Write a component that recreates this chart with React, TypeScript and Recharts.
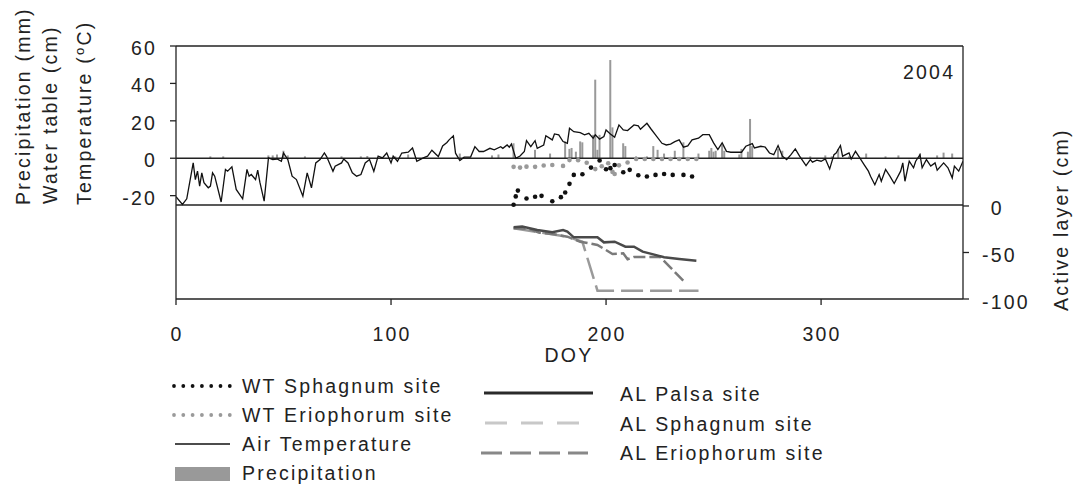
import React from 'react';
import { ComposedChart, Line, Bar, XAxis, YAxis, ReferenceLine } from 'recharts';

// ---------- data (DOY, value) ----------
const airTemperature: [number, number][] = [
  [0, -20.6], [3, -24.7], [5, -21.7], [8, -2.5], [9, -11.4], [10, -6.9], [11, -14.9], [12, -7.8], [13, -13.1],
  [15, -15.8], [16, -14.9], [17, -7.8], [18, -9.6], [21, -23.4], [23, -6], [24, -6.9], [26, -4.6], [28, -16.7],
  [31, -21.7], [33, -6], [34, -9.6], [35, -8.7], [37, -11.4], [38, -6.4], [39, -12.8], [41, -22.9], [43, 0.2],
  [45, -0.7], [47, -0.4], [49, -1.6], [50, 2.8], [52, -0.7], [54, -9.6], [56, -11.4], [59, -20.3], [61, -7.8],
  [63, -15.8], [65, -2.5], [67, -0.7], [69, 2.8], [70, 1.0], [73, -7], [74, -4.3], [77, -2.5], [78, -0.4],
  [80, -2.5], [82, -7.8], [84, -9.6], [86, -8.7], [88, -2.5], [90, -0.7], [92, -7], [94, 1.1], [96, 0.2],
  [98, 2.8], [100, -2.5], [101, 1.1], [103, -1.6], [105, 2.8], [108, 3.2], [110, 5.5], [112, -1.6], [115, 0.2],
  [117, 1.1], [119, 4.3], [121, 2.0], [122, 0.9], [124, 6.6], [126, 8.4], [127, 9.8], [129, 12.0], [130, 2.7],
  [132, -1.2], [134, 0.6], [137, 0.6], [139, 6.2], [141, 3.6], [143, 3.6], [146, 5.3], [148, 4.5], [151, 6.2],
  [152, 5.3], [154, 7.1], [155, 5.9], [156, 7.6], [158, 0], [160, 1.2], [162, 3.6], [163, 9.4], [165, 6.2],
  [167, 9.4], [168, 5.3], [171, 7.1], [172, 12.0], [175, 9.8], [176, 13.0], [178, 12.5], [180, 8.9], [182, 8.0],
  [183, 16.0], [185, 14.2], [188, 13.7], [190, 12.5], [192, 13.3], [194, 10.7], [195, 12.5], [197, 10.2],
  [199, 11.6], [200, 15.1], [202, 13.0], [204, 11.2], [206, 17.8], [208, 15.1], [210, 14.8], [213, 17.8],
  [215, 17.3], [216, 15.5], [219, 18.7], [221, 15.5], [223, 12.5], [226, 8.0], [228, 7.1], [230, 7.6],
  [232, 8.9], [234, 9.8], [236, 5.9], [238, 6.6], [240, 9.8], [243, 10.7], [245, 12.6], [248, 12.6], [250, 8.2],
  [252, 4.6], [254, 8.2], [256, 3.7], [258, 3.2], [261, 3.2], [263, 3.2], [265, 6.4], [268, 7.8], [269, 5.5],
  [272, 6.4], [274, 6.0], [276, 2.8], [278, 1.9], [280, 6.8], [282, 1.1], [284, -0.7], [286, 1.9], [288, 5.0],
  [290, 1.1], [293, -3.9], [295, -0.7], [296, -2.1], [298, -1.0], [300, -1.6], [302, -0.4], [304, -5.7],
  [306, 1.9], [307, 2.8], [309, 6.8], [310, 1.1], [313, 2.8], [314, -0.4], [316, 3.7], [318, 0.2], [320, -3.4],
  [322, -6.9], [323, -9.6], [325, -14.2], [327, -8.7], [328, -12.3], [330, -6.0], [332, -9.6], [334, -13.5],
  [337, -6.9], [338, -2.5], [339, -12.3], [341, -1.6], [343, -5.1], [344, -1.6], [346, 1.9], [347, -5.1],
  [349, -0.7], [351, -4.2], [353, -2.5], [354, -6.4], [357, -2.5], [359, -5.1], [361, -10.5], [362, -4.2],
  [364, -6.9], [366, -1.6],
];

const precipitation: [number, number][] = [
  [16, 1], [22, 1], [43, 1.5], [45, 1.5], [47, 2], [50, 4], [52, 1.5], [60, 1], [77, 1], [86, 1], [89, 1.2],
  [102, 1], [108, 2], [132, 2.5], [147, 1.5], [150, 2], [157, 8], [167, 4.5], [174, 2.5], [181, 9], [183, 5],
  [184, 5.5], [186, 3.5], [188, 9], [189, 8.5], [194, 12.5], [195, 42], [196, 4.5], [197, 12.5], [202, 52.5],
  [203, 16.5], [208, 8], [209, 6.5], [214, 1], [219, 1], [222, 6.5], [224, 4.5], [227, 2.5], [232, 4],
  [236, 8.5], [243, 2.5], [248, 4], [249, 5.5], [250, 3.5], [251, 4], [254, 7], [255, 4], [262, 2], [263, 5],
  [266, 3.5], [267, 21], [268, 6.5], [280, 5], [282, 4], [295, 1], [302, 1.5], [305, 1], [308, 5], [313, 1],
  [321, 2.5], [330, 1], [336, 1.5], [346, 2.5], [354, 1.5], [357, 3], [361, 2.5],
];

const wtSphagnum: [number, number][] = [
  [157, -24.9], [158, -20.4], [159, -17.3], [163, -21.5], [167, -20.6], [170, -20.1], [175, -23.0],
  [179, -20.8], [181, -18.3], [183, -13.7], [185, -8.9], [189, -8.6], [193, -5.0], [197, -1.2], [200, -5.9],
  [202, -5.3], [204, -3.6], [208, -7.5], [211, -6.2], [215, -9.1], [219, -9.8], [223, -8.9], [227, -8.4],
  [231, -8.9], [236, -8.9], [240, -9.8],
];

const wtEriophorum: [number, number][] = [
  [157, -4.6], [160, -5.0], [163, -4.5], [167, -4.6], [171, -3.9], [175, -3.6], [180, -4.1], [183, -1.0],
  [187, -1.1], [191, -2.4], [195, -5.8], [198, -4.3], [201, -2.7], [203, -7.3], [204, -8.4], [206, -3.8],
  [210, -2.3], [214, -0.4], [218, -0.4], [222, -0.4], [226, -0.4], [230, -0.4], [234, -0.4], [238, -0.4],
  [242, -0.4],
];

const alPalsa: [number, number][] = [
  [157, -22.9], [161, -22.2], [168, -25.8], [175, -28.3], [180, -25.8], [182, -27.6], [185, -33.7],
  [190, -33.7], [196, -33.7], [199, -39.1], [204, -38.4], [209, -43.7], [213, -43.7], [217, -49.1],
  [222, -52.0], [227, -55.2], [234, -57.0], [242, -58.8],
];

const alSphagnum: [number, number][] = [
  [157, -24], [165, -26.9], [172, -29.4], [182, -33], [189, -38.5], [196, -91], [243, -91],
];

const alEriophorum: [number, number][] = [
  [157, -24], [164, -24.5], [169, -28.7], [176, -30.5], [182, -33], [188, -38.4], [192, -40.1], [196, -41.9],
  [203, -51.6], [208, -50.9], [210, -57.3], [213, -54.8], [219, -54.8], [225, -54.5], [230, -66.3],
  [236, -80.6],
];

const doyTicks = [0, 100, 200, 300];
const leftTicks = [-20, 0, 20, 40, 60];
const rightTicks = [-100, -50, 0];

// ---------- merged table for the chart ----------
const seriesMap: Record<string, [number, number][]> = {
  temp: airTemperature,
  precip: precipitation,
  wtS: wtSphagnum,
  wtE: wtEriophorum,
  alP: alPalsa,
  alS: alSphagnum,
  alE: alEriophorum,
};
const allDoys = Array.from(
  new Set(Object.values(seriesMap).flatMap((s) => s.map((p) => p[0])))
).sort((a, b) => a - b);
const rows = allDoys.map((d) => {
  const r: any = { doy: d };
  for (const [k, s] of Object.entries(seriesMap)) {
    const f = s.find((p) => p[0] === d);
    r[k] = f ? f[1] : null;
  }
  return r;
});

// ---------- styles ----------
const FONT = '"Liberation Sans", Arial, Helvetica, sans-serif';
const INK = '#222';
const txt: React.CSSProperties = { fontFamily: FONT, fontSize: 19.5, letterSpacing: 2.2, fill: INK };

const LeftTick = (p: any) => (
  <text x={p.x - 11} y={p.y + 9} textAnchor="end" style={txt}>{p.payload.value}</text>
);
const RightTick = (p: any) => (
  <text x={p.x + 11 + (p.payload.value >= 0 ? 8.7 : 0)} y={p.y + 9.5} textAnchor="start" style={txt}>
    {p.payload.value}
  </text>
);
const BottomTick = (p: any) => (
  <text x={p.x + 1} y={p.y + 33.7} textAnchor="middle" style={txt}>{p.payload.value}</text>
);

const leftTitle = () => (
  <g>
    <text transform="rotate(-90, 30, 205)" x={30} y={205} textAnchor="start" style={txt}>Precipitation (mm)</text>
    <text transform="rotate(-90, 57, 204)" x={57} y={204} textAnchor="start" style={txt}>Water table (cm)</text>
    <text transform="rotate(-90, 91, 205)" x={91} y={205} textAnchor="start" style={txt}>
      Temperature (<tspan dy={-7} style={{ fontSize: 13 }}>o</tspan><tspan dy={7}>C)</tspan>
    </text>
  </g>
);
const rightTitle = () => (
  <text transform="rotate(-90, 1068, 311)" x={1068} y={311} textAnchor="start" style={txt}>Active layer (cm)</text>
);
const doyTitle = () => (
  <text x={569} y={362} textAnchor="middle" style={txt}>DOY</text>
);
const yearLabel = () => (
  <text x={903} y={79} textAnchor="start" style={txt}>2004</text>
);

const axisLine = { stroke: INK, strokeWidth: 1.3 };

function Legend() {
  const dots = [0, 1, 2, 3, 4, 5, 6];
  return (
    <svg width={1073} height={485} style={{ position: 'absolute', left: 0, top: 0, pointerEvents: 'none' }}>
      {dots.map((i) => <circle key={'a' + i} cx={174 + i * 9.3} cy={386} r={1.9} fill="#111" />)}
      <text x={242} y={393} style={txt}>WT Sphagnum site</text>
      {dots.map((i) => <circle key={'b' + i} cx={174 + i * 9.3} cy={415} r={1.9} fill="#9a9a9a" />)}
      <text x={242} y={422} style={txt}>WT Eriophorum site</text>
      <line x1={175} x2={230} y1={444} y2={444} stroke="#111" strokeWidth={1.3} />
      <text x={242} y={451} style={txt}>Air Temperature</text>
      <rect x={175} y={467} width={55} height={14} fill="#999" />
      <text x={242} y={480} style={txt}>Precipitation</text>

      <line x1={484} x2={593} y1={393} y2={393} stroke="#2a2a2a" strokeWidth={3} />
      <text x={620} y={401} style={txt}>AL Palsa site</text>
      <line x1={485} x2={582} y1={423} y2={423} stroke="#c8c8c8" strokeWidth={3} strokeDasharray="22 14" />
      <text x={620} y={431} style={txt}>AL Sphagnum site</text>
      <line x1={481} x2={588} y1={453} y2={453} stroke="#888" strokeWidth={3} strokeDasharray="21 8" />
      <text x={620} y={460} style={txt}>AL Eriophorum site</text>
    </svg>
  );
}

export default function App() {
  return (
    <div style={{ position: 'absolute', left: 0, top: 0, width: 1073, height: 485, overflow: 'hidden', background: '#fff' }}>
      <ComposedChart
        width={1073}
        height={370}
        data={rows}
        margin={{ top: 46, right: 50, bottom: 31, left: 116 }}
      >
        <XAxis
          dataKey="doy"
          type="number"
          domain={[0, 366]}
          ticks={doyTicks}
          allowDataOverflow
          height={40}
          tickSize={6}
          tickMargin={2}
          axisLine={axisLine}
          tickLine={{ stroke: INK, strokeWidth: 1.3 }}
          tick={BottomTick}
          label={doyTitle}
        />
        <YAxis
          yAxisId="left"
          orientation="left"
          type="number"
          domain={[-75.25, 60]}
          ticks={leftTicks}
          allowDataOverflow
          width={60}
          tickSize={6}
          tickMargin={2}
          axisLine={axisLine}
          tickLine={{ stroke: INK, strokeWidth: 1.3 }}
          tick={LeftTick}
          label={leftTitle}
        />
        <YAxis
          yAxisId="right"
          orientation="right"
          type="number"
          domain={[-100, 172]}
          ticks={rightTicks}
          allowDataOverflow
          width={60}
          tickSize={6}
          tickMargin={2}
          axisLine={axisLine}
          tickLine={{ stroke: INK, strokeWidth: 1.3 }}
          tick={RightTick}
          label={rightTitle}
        />
        <ReferenceLine yAxisId="left" y={60} stroke={INK} strokeWidth={1.3} label={yearLabel} />
        <ReferenceLine yAxisId="left" y={-25} stroke={INK} strokeWidth={1.3} />
        <Bar yAxisId="left" dataKey="precip" fill="#999" barSize={2} isAnimationActive={false} />
        <ReferenceLine yAxisId="left" y={0} stroke={INK} strokeWidth={1.3} />
        <Line
          yAxisId="left"
          dataKey="temp"
          stroke="#111"
          strokeWidth={1.3}
          dot={false}
          activeDot={false}
          connectNulls
          isAnimationActive={false}
        />
        <Line
          yAxisId="left"
          dataKey="wtE"
          stroke="none"
          strokeWidth={0}
          dot={{ r: 2.3, fill: '#9a9a9a', stroke: 'none' }}
          activeDot={false}
          isAnimationActive={false}
        />
        <Line
          yAxisId="left"
          dataKey="wtS"
          stroke="none"
          strokeWidth={0}
          dot={{ r: 2.3, fill: '#111', stroke: 'none' }}
          activeDot={false}
          isAnimationActive={false}
        />
        <Line
          yAxisId="right"
          dataKey="alS"
          stroke="#9a9a9a"
          strokeWidth={2.5}
          strokeDasharray="22 7"
          dot={false}
          activeDot={false}
          connectNulls
          isAnimationActive={false}
        />
        <Line
          yAxisId="right"
          dataKey="alE"
          stroke="#7a7a7a"
          strokeWidth={2.5}
          strokeDasharray="12 4"
          dot={false}
          activeDot={false}
          connectNulls
          isAnimationActive={false}
        />
        <Line
          yAxisId="right"
          dataKey="alP"
          stroke="#4a4a4a"
          strokeWidth={2.5}
          dot={false}
          activeDot={false}
          connectNulls
          isAnimationActive={false}
        />
      </ComposedChart>
      <Legend />
    </div>
  );
}
